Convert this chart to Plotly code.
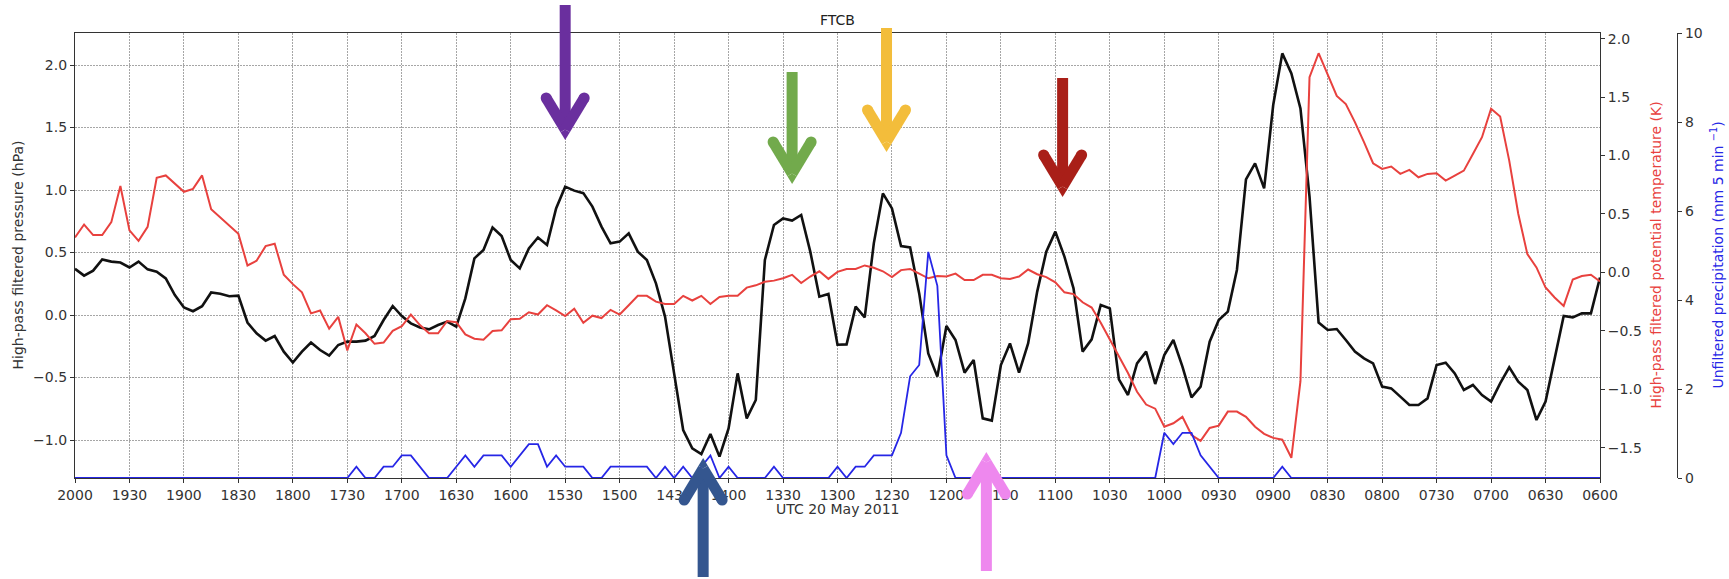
import math
import plotly.graph_objects as go

# ---------------------------------------------------------------------------
# FTCB surface record, 20 May 2011, 5-minute samples from 2000 UTC back to 0600 UTC
# ---------------------------------------------------------------------------
start_min = 20 * 60
end_min = 6 * 60
step_min = 5
times = list(range(start_min, end_min - 1, -step_min))

# high-pass filtered pressure (hPa)
pressure = [
    0.37, 0.315, 0.355, 0.445, 0.427, 0.42, 0.38, 0.427, 0.365, 0.347,
    0.293, 0.16, 0.06, 0.03, 0.07, 0.18, 0.17, 0.15, 0.155, -0.06,
    -0.147, -0.205, -0.168, -0.293, -0.38, -0.293, -0.22, -0.28, -0.325, -0.24,
    -0.213, -0.213, -0.205, -0.168, -0.04, 0.072, -0.008, -0.067, -0.10, -0.115,
    -0.08, -0.053, -0.093, 0.133, 0.453, 0.52, 0.70, 0.632, 0.44, 0.373,
    0.533, 0.62, 0.56, 0.853, 1.027, 0.995, 0.975, 0.867, 0.707, 0.573,
    0.587, 0.653, 0.507, 0.44, 0.253, -0.013, -0.467, -0.92, -1.067, -1.112,
    -0.952, -1.133, -0.907, -0.467, -0.827, -0.68, 0.44, 0.72, 0.773, 0.755,
    0.80, 0.507, 0.147, 0.168, -0.238, -0.235, 0.067, -0.019, 0.573, 0.973,
    0.853, 0.552, 0.541, 0.173, -0.307, -0.493, -0.088, -0.2, -0.461, -0.36,
    -0.827, -0.845, -0.4, -0.227, -0.461, -0.227, 0.187, 0.507, 0.667, 0.467,
    0.213, -0.293, -0.195, 0.08, 0.053, -0.515, -0.64, -0.387, -0.293, -0.552,
    -0.32, -0.2, -0.413, -0.659, -0.573, -0.213, -0.04, 0.027, 0.36, 1.085,
    1.213, 1.013, 1.68, 2.093, 1.933, 1.653, 0.947, -0.061, -0.12, -0.112,
    -0.2, -0.293, -0.347, -0.387, -0.573, -0.587, -0.653, -0.72, -0.72, -0.667,
    -0.4, -0.381, -0.467, -0.6, -0.56, -0.64, -0.693, -0.547, -0.419, -0.533,
    -0.6, -0.84, -0.693, -0.36, -0.008, -0.019, 0.013, 0.013, 0.3,
]

# high-pass filtered potential temperature (K)
theta = [
    0.30, 0.41, 0.32, 0.32, 0.43, 0.74, 0.36, 0.27, 0.39, 0.81,
    0.83, 0.76, 0.69, 0.715, 0.83, 0.54, 0.47, 0.40, 0.33, 0.06,
    0.10, 0.225, 0.245, -0.02, -0.10, -0.17, -0.35, -0.325, -0.48, -0.38,
    -0.667, -0.445, -0.52, -0.61, -0.60, -0.50, -0.46, -0.36, -0.45, -0.52,
    -0.52, -0.415, -0.425, -0.53, -0.567, -0.575, -0.50, -0.495, -0.40, -0.396,
    -0.34, -0.36, -0.28, -0.325, -0.373, -0.31, -0.43, -0.37, -0.39, -0.32,
    -0.36, -0.28, -0.20, -0.20, -0.25, -0.27, -0.27, -0.20, -0.24, -0.20,
    -0.27, -0.21, -0.20, -0.20, -0.13, -0.11, -0.08, -0.07, -0.05, -0.02,
    -0.09, -0.035, 0.01, -0.055, 0.005, 0.03, 0.03, 0.06, 0.04, 0.01,
    -0.04, 0.02, 0.03, -0.01, -0.05, -0.03, -0.035, -0.01, -0.065, -0.065,
    -0.02, -0.02, -0.05, -0.055, -0.035, 0.025, -0.015, -0.04, -0.085, -0.17,
    -0.185, -0.255, -0.30, -0.43, -0.57, -0.72, -0.86, -1.02, -1.13, -1.165,
    -1.32, -1.29, -1.235, -1.39, -1.44, -1.33, -1.31, -1.19, -1.19, -1.235,
    -1.32, -1.38, -1.415, -1.43, -1.585, -0.93, 1.67, 1.875, 1.69, 1.51,
    1.44, 1.286, 1.114, 0.934, 0.886, 0.906, 0.843, 0.877, 0.814, 0.843,
    0.849, 0.786, 0.829, 0.871, 1.014, 1.157, 1.40, 1.334, 0.957, 0.50,
    0.157, 0.043, -0.129, -0.214, -0.286, -0.06, -0.03, -0.02, -0.077,
]

# unfiltered precipitation (mm per 5 min)
precip = [
    0, 0, 0, 0, 0, 0, 0, 0, 0, 0,
    0, 0, 0, 0, 0, 0, 0, 0, 0, 0,
    0, 0, 0, 0, 0, 0, 0, 0, 0, 0,
    0, 0.254, 0, 0, 0.254, 0.254, 0.508, 0.508, 0.254, 0,
    0, 0, 0.254, 0.508, 0.254, 0.508, 0.508, 0.508, 0.254, 0.508,
    0.762, 0.762, 0.254, 0.508, 0.254, 0.254, 0.254, 0, 0, 0.254,
    0.254, 0.254, 0.254, 0.254, 0, 0.254, 0, 0.254, 0, 0.254,
    0.508, 0, 0.254, 0, 0, 0, 0, 0.254, 0, 0,
    0, 0, 0, 0, 0.254, 0, 0.254, 0.254, 0.508, 0.508,
    0.508, 1.016, 2.286, 2.54, 5.08, 4.318, 0.508, 0, 0, 0,
    0, 0, 0, 0, 0, 0, 0, 0, 0, 0,
    0, 0, 0, 0, 0, 0, 0, 0, 0, 0,
    1.016, 0.762, 1.016, 1.016, 0.508, 0.254, 0, 0, 0, 0,
    0, 0, 0, 0.254, 0, 0, 0, 0, 0, 0,
    0, 0, 0, 0, 0, 0, 0, 0, 0, 0,
    0, 0, 0, 0, 0, 0, 0, 0, 0, 0,
    0, 0, 0, 0, 0, 0, 0, 0, 0,
]

tick_minutes = list(range(start_min, end_min - 1, -30))
tick_labels = [f"{m // 60:02d}{m % 60:02d}" for m in tick_minutes]

pressure_ticks = [-1.0, -0.5, 0.0, 0.5, 1.0, 1.5, 2.0]
theta_ticks = [-1.5, -1.0, -0.5, 0.0, 0.5, 1.0, 1.5, 2.0]
precip_ticks = [0, 2, 4, 6, 8, 10]


def fmt(v):
    return f"{v:.1f}".replace("-", "\u2212")


# ---------------------------------------------------------------------------
# page geometry (pixels)
# ---------------------------------------------------------------------------
W, H = 1729, 579
ML, MR, MT, MB = 75, 52, 33, 101
PAPER_W = W - ML - MR
PAPER_H = H - MT - MB
PLOT_W = 1525                      # width of the axes box; the extra room holds the 3rd axis
X_DOMAIN_END = PLOT_W / PAPER_W

FONT = "DejaVu Sans"
INK = "#333333"
BLACK = "#111111"
RED = "#e8413e"
BLUE = "#2626e6"
GRID = "#a6a6a6"

fig = go.Figure()

fig.add_trace(go.Scatter(
    x=times, y=pressure, mode="lines", yaxis="y",
    line=dict(color=BLACK, width=2.6), name="pressure", showlegend=False,
))
fig.add_trace(go.Scatter(
    x=times, y=theta, mode="lines", yaxis="y2",
    line=dict(color=RED, width=2.0), name="theta", showlegend=False,
))
fig.add_trace(go.Scatter(
    x=times, y=precip, mode="lines", yaxis="y3",
    line=dict(color=BLUE, width=1.8), name="precip", showlegend=False,
))

# ---------------------------------------------------------------------------
# event arrows: (time in minutes, tail y px, tip y px, colour)
# ---------------------------------------------------------------------------
arrow_specs = [
    (930, 5, 140, "#6a2f9e"),
    (805, 72, 184, "#72aa4c"),
    (753, 28, 152, "#f3bd3b"),
    (656, 78, 197, "#a91f18"),
    (854, 577, 458, "#34568f"),
    (698, 571, 452, "#ee88ee"),
]


def to_paper(px, py):
    return (px - ML) / PAPER_W, (H - MB - py) / PAPER_H


def poly(points, color):
    pts = [to_paper(x, y) for x, y in points]
    d = "M " + " L ".join(f"{x:.5f},{y:.5f}" for x, y in pts) + " Z"
    return dict(type="path", path=d, xref="paper", yref="paper",
                fillcolor=color, line=dict(width=0), layer="above")


def arrow_shapes(t, tail_y, tip_y, color, w=11.0, half_span=19.0, head_len=42.0):
    cx = ML + (start_min - t) / (start_min - end_min) * PLOT_W
    s = 1 if tip_y > tail_y else -1
    h = w / 2
    m = 10.0
    for _ in range(30):
        phi = math.atan2(half_span, head_len - m)
        m = h / math.sin(phi)
    ax, ay = cx, tip_y - s * m
    out = [poly([(cx - h, tail_y), (cx + h, tail_y), (cx + h, ay), (cx - h, ay)], color)]
    outer = []
    for side in (-1, 1):
        c0, c1 = cx + side * half_span, tip_y - s * head_len
        ux, uy = c0 - ax, c1 - ay
        ln = math.hypot(ux, uy)
        nx, ny = -uy / ln, ux / ln
        if ny * s < 0:
            nx, ny = -nx, -ny
        out.append(poly([(c0 + nx * h, c1 + ny * h), (ax + nx * h, ay + ny * h),
                         (ax - nx * h, ay - ny * h), (c0 - nx * h, c1 - ny * h)], color))
        x0, y0 = to_paper(c0 - h, c1 + h)
        x1, y1 = to_paper(c0 + h, c1 - h)
        out.append(dict(type="circle", xref="paper", yref="paper",
                        x0=x0, y0=y0, x1=x1, y1=y1,
                        fillcolor=color, line=dict(width=0), layer="above"))
        outer.append((ax + nx * h, ay + ny * h))
    out.append(poly([(ax, ay), outer[0], (cx, tip_y), outer[1]], color))
    return out


shapes = []
for spec in arrow_specs:
    shapes.extend(arrow_shapes(*spec))

axis_common = dict(
    ticks="outside", ticklen=4, tickwidth=1, tickcolor=INK,
    tickfont=dict(family=FONT, size=14, color=INK),
    zeroline=False,
)

fig.update_layout(
    width=W, height=H,
    margin=dict(l=ML, r=MR, t=MT, b=MB, pad=0),
    paper_bgcolor="white", plot_bgcolor="white",
    showlegend=False,
    font=dict(family=FONT, size=14, color=INK),
    title=dict(text="FTCB", x=(X_DOMAIN_END / 2), xref="paper", xanchor="center",
               y=1 - 20 / H, yref="container", yanchor="middle",
               font=dict(family=FONT, size=14, color="#222222")),
    xaxis=dict(
        domain=[0, X_DOMAIN_END],
        range=[start_min, end_min],
        tickmode="array", tickvals=tick_minutes, ticktext=tick_labels,
        showline=True, linecolor=INK, linewidth=1.3, mirror=True,
        showgrid=True, gridcolor=GRID, gridwidth=1, griddash="2px,1px",
        **axis_common,
    ),
    yaxis=dict(
        range=[-1.304, 2.256],
        tickmode="array", tickvals=pressure_ticks,
        ticktext=[fmt(v) for v in pressure_ticks],
        showline=True, linecolor=INK, linewidth=1.3, mirror=True,
        showgrid=True, gridcolor=GRID, gridwidth=1, griddash="2px,1px",
        **axis_common,
    ),
    yaxis2=dict(
        overlaying="y", side="right", anchor="x",
        range=[-1.758, 2.048],
        tickmode="array", tickvals=theta_ticks,
        ticktext=[fmt(v) for v in theta_ticks],
        showline=False, showgrid=False,
        **axis_common,
    ),
    yaxis3=dict(
        overlaying="y", side="right", anchor="free", position=1.0,
        range=[0, 10],
        tickmode="array", tickvals=precip_ticks,
        ticktext=[str(v) for v in precip_ticks],
        showline=True, linecolor=INK, linewidth=1.3, showgrid=False,
        **axis_common,
    ),
    shapes=shapes,
    annotations=[
        dict(text="High-pass filtered pressure (hPa)", textangle=-90,
             x=(17 - ML) / PAPER_W, y=0.5, xref="paper", yref="paper",
             xanchor="center", yanchor="middle", showarrow=False,
             font=dict(family=FONT, size=14, color=INK)),
        dict(text="High-pass filtered potential temperature (K)", textangle=-90,
             x=(1655 - ML) / PAPER_W, y=0.5, xref="paper", yref="paper",
             xanchor="center", yanchor="middle", showarrow=False,
             font=dict(family=FONT, size=14, color=RED)),
        dict(text="Unfiltered precipitation (mm 5 min <sup>\u22121</sup>)", textangle=-90,
             x=(1717 - ML) / PAPER_W, y=0.5, xref="paper", yref="paper",
             xanchor="center", yanchor="middle", showarrow=False,
             font=dict(family=FONT, size=14, color=BLUE)),
        dict(text="UTC 20 May 2011",
             x=(X_DOMAIN_END / 2), y=(H - MB - 509) / PAPER_H,
             xref="paper", yref="paper",
             xanchor="center", yanchor="middle", showarrow=False,
             font=dict(family=FONT, size=14, color=INK)),
    ],
)

fig.write_html("out.html")
